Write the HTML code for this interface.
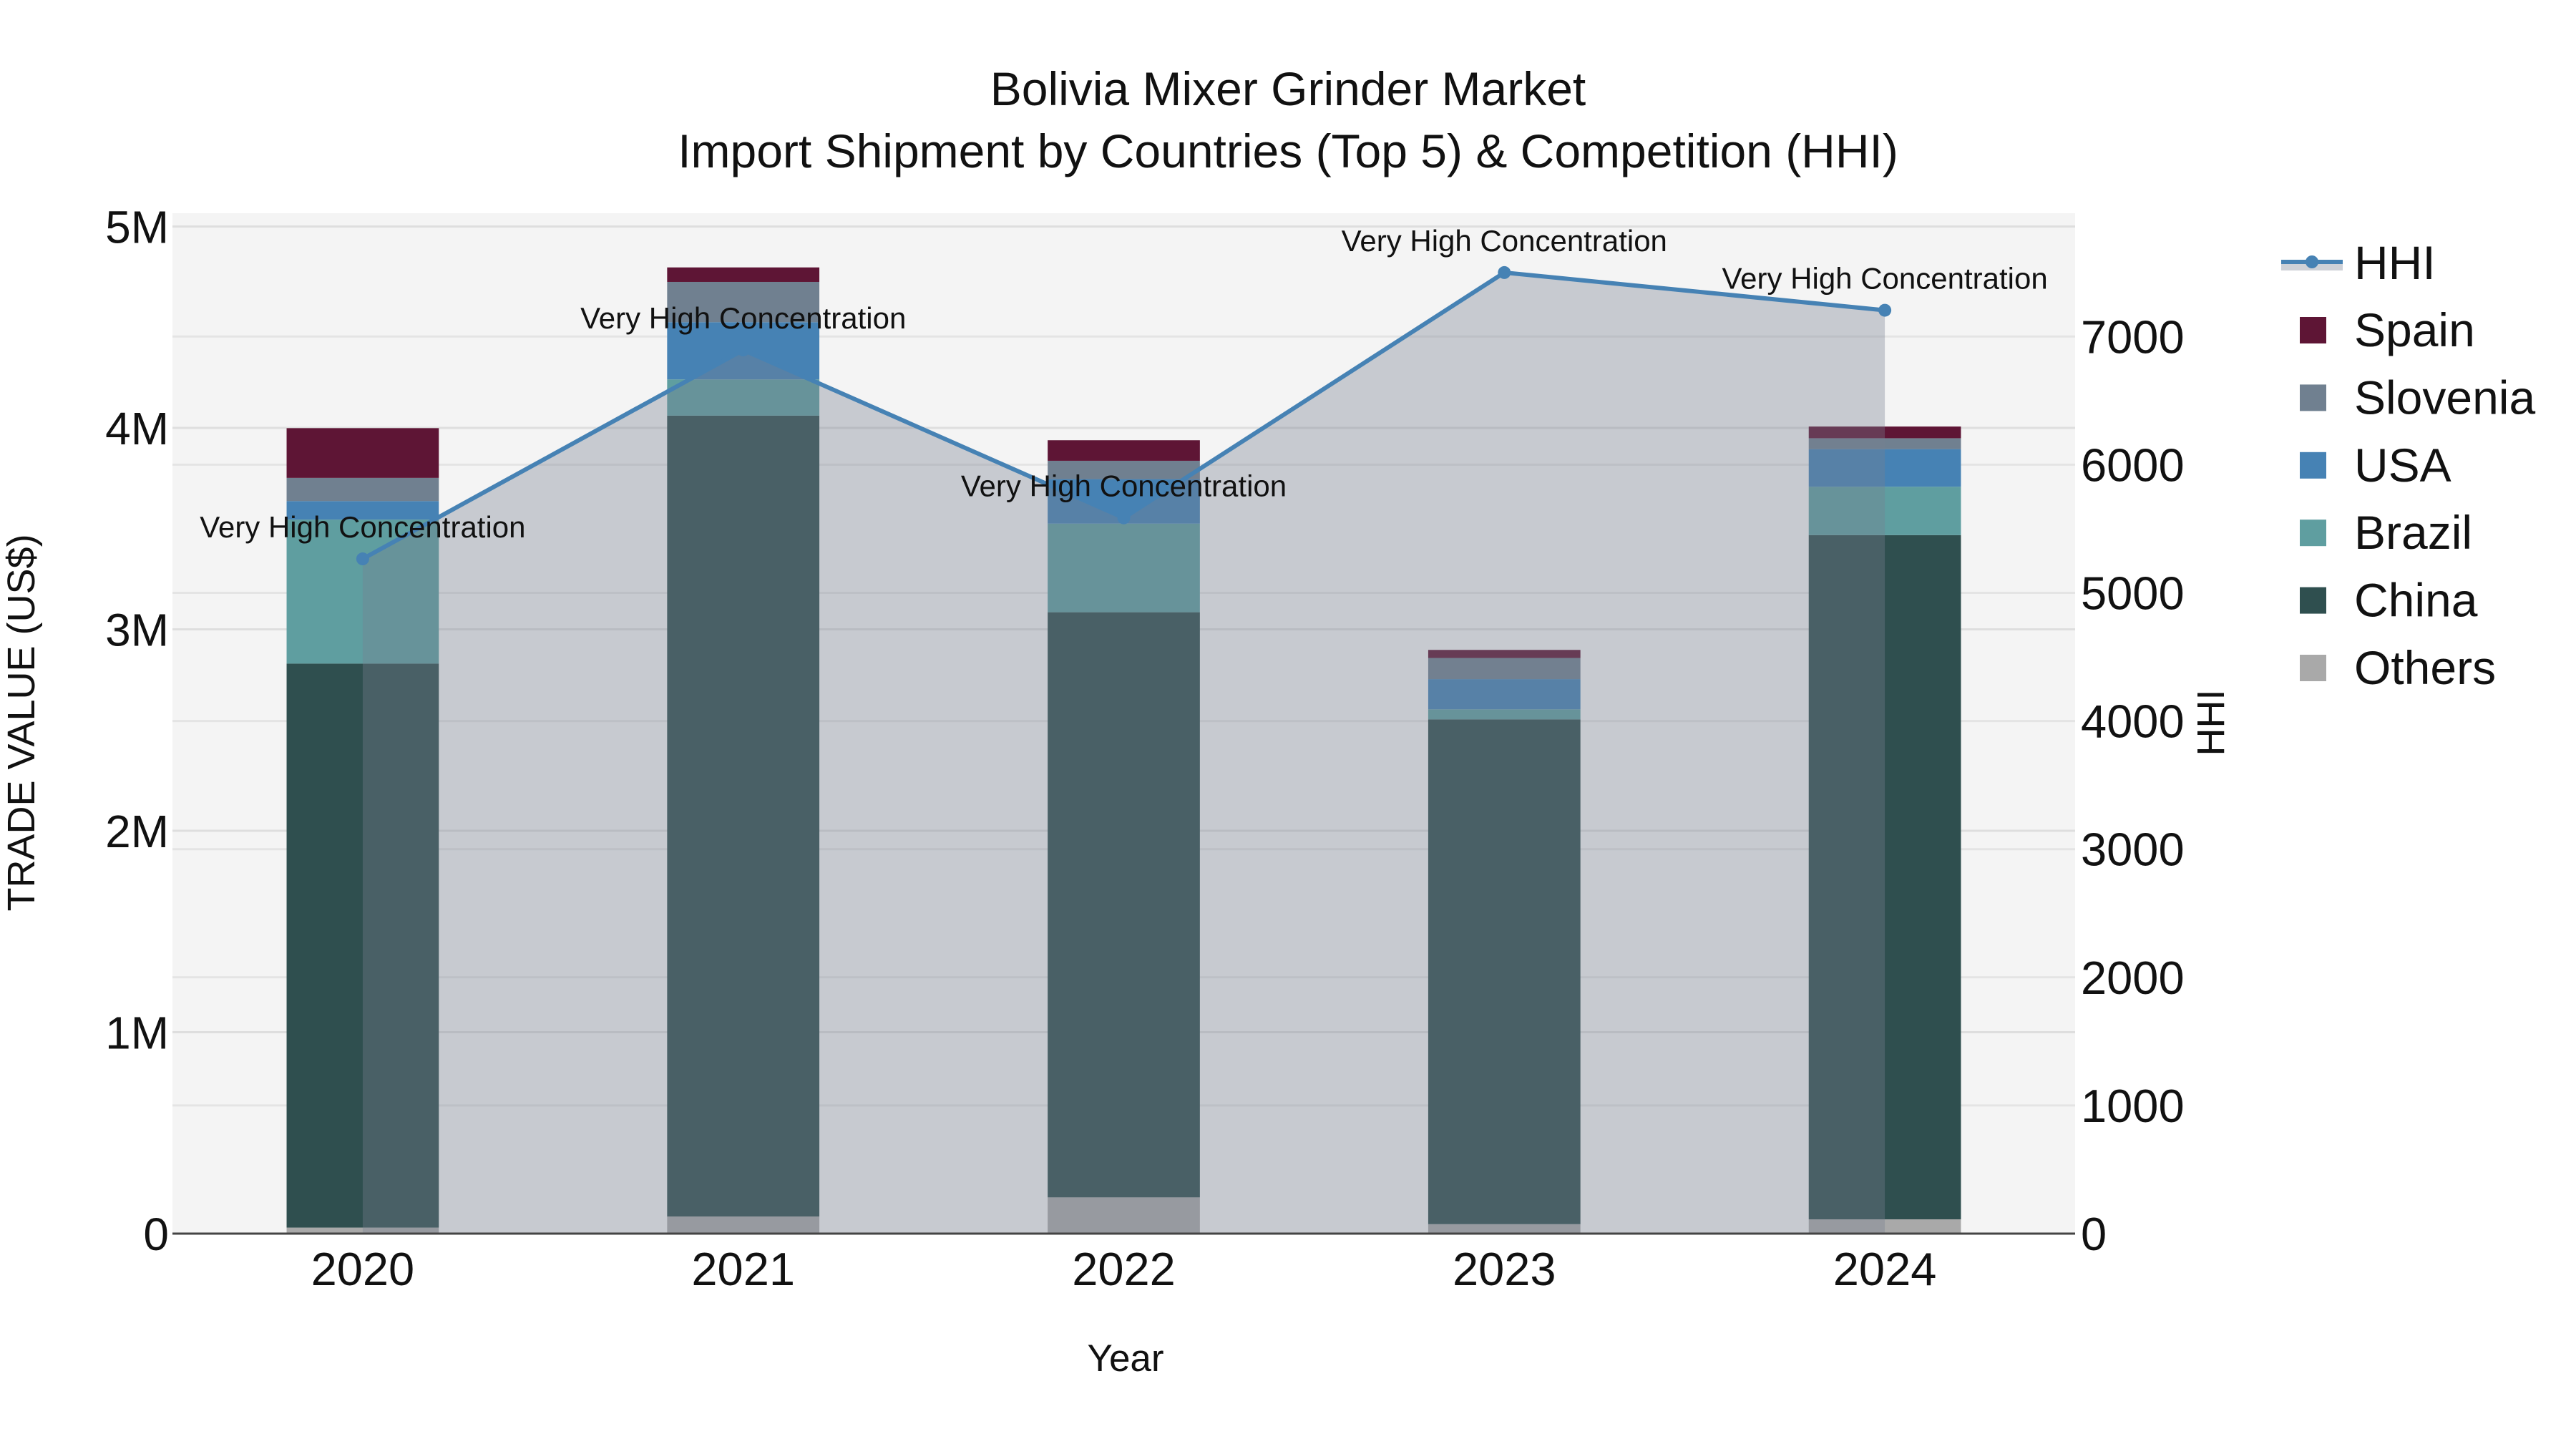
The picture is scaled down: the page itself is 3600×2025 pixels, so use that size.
<!DOCTYPE html>
<html><head><meta charset="utf-8"><style>
html,body{margin:0;padding:0;background:#fff}
svg{display:block}
text{font-family:"Liberation Sans",sans-serif;fill:#111}
</style></head><body>
<svg id="chart" width="3600" height="2025" viewBox="0 0 3600 2025" xmlns="http://www.w3.org/2000/svg">
<rect x="0" y="0" width="3600" height="2025" fill="#fff"/>
<rect x="241" y="298" width="2659" height="1426" fill="#f4f4f4"/>
<g id="grid"></g>
<g id="bars"></g>
<g id="hhi"></g>
<g id="axes"></g>
<text x="1800" y="147" font-size="66" text-anchor="middle">Bolivia Mixer Grinder Market</text>
<text x="1800" y="234" font-size="66" text-anchor="middle">Import Shipment by Countries (Top 5) &amp; Competition (HHI)</text>
<text x="1573" y="1916" font-size="53" text-anchor="middle">Year</text>
<text transform="translate(48,1010) rotate(-90)" font-size="54" text-anchor="middle">TRADE VALUE (US$)</text>
<text transform="translate(3108,1010) rotate(-90)" font-size="54" text-anchor="middle">HHI</text>
<g id="legend"></g>
</svg>
<script>
const years = ["2020","2021","2022","2023","2024"];
const series = ["Others","China","Brazil","USA","Slovenia","Spain"];
const others   = [0.03, 0.085, 0.18, 0.047, 0.071];
const china    = [2.80, 3.976, 2.905, 2.506, 3.397];
const brazil   = [0.715, 0.18, 0.44, 0.05, 0.24];
const usa      = [0.092, 0.284, 0.221, 0.15, 0.187];
const slovenia = [0.115, 0.20, 0.091, 0.105, 0.054];
const spain    = [0.247, 0.072, 0.102, 0.04, 0.058];
const hhi = [5265, 6895, 5585, 7499, 7205];
const hhiLabels = ["Very High Concentration","Very High Concentration","Very High Concentration","Very High Concentration","Very High Concentration"];
const leftTicks = [0,1,2,3,4,5];
const leftTickLabels = ["0","1M","2M","3M","4M","5M"];
const rightTicks = [0,1000,2000,3000,4000,5000,6000,7000];
const colors = {Others:"#a9a9a9",China:"#2f4f4f",Brazil:"#5f9ea0",USA:"#4682b4",Slovenia:"#708090",Spain:"#5e1535"};
const seriesData = {Others:others,China:china,Brazil:brazil,USA:usa,Slovenia:slovenia,Spain:spain};

const NS="http://www.w3.org/2000/svg";
const X0=241,X1=2900,Y0=1724,Y1=298;
const xs=i=>X0+(i+0.5)*(X1-X0)/years.length;
const yl=v=>Y0-v*(Y0-Y1)/5.066;
const yr=v=>Y0-v*(Y0-Y1)/7962;
function mk(tag,attrs,parent){const e=document.createElementNS(NS,tag);for(const k in attrs)e.setAttribute(k,attrs[k]);parent.appendChild(e);return e;}
const grid=document.getElementById('grid'),bars=document.getElementById('bars'),hg=document.getElementById('hhi'),axes=document.getElementById('axes'),leg=document.getElementById('legend');

leftTicks.forEach((t,i)=>{
  if(t>0){const l=mk('line',{x1:X0,x2:X1,y1:yl(t),y2:yl(t),stroke:'#dedede','stroke-width':3},grid);
  
  }
  const tx=mk('text',{x:236,y:yl(t)+23,'font-size':64,'text-anchor':'end'},axes);tx.textContent=leftTickLabels[i];
  
  
});
rightTicks.forEach(t=>{
  if(t>0){const l=mk('line',{x1:X0,x2:X1,y1:yr(t),y2:yr(t),stroke:'#e4e4e4','stroke-width':3},grid);
  
  }
  const tx=mk('text',{x:2908,y:yr(t)+23,'font-size':65},axes);tx.textContent=String(t);
  
  
});
const bw=0.4*(X1-X0)/years.length;
years.forEach((y,i)=>{
  let cum=0;
  series.forEach(s=>{
    const v=seriesData[s][i];
    const r=mk('rect',{x:xs(i)-bw/2,y:yl(cum+v),width:bw,height:yl(cum)-yl(cum+v),fill:colors[s]},bars);
    
    
    cum+=v;
  });
  const tx=mk('text',{x:xs(i),y:1796,'font-size':65,'text-anchor':'middle'},axes);tx.textContent=y;
  
  
});
let pts=hhi.map((v,i)=>xs(i)+','+yr(v)).join(' ');
const area=mk('polygon',{points:xs(0)+','+Y0+' '+pts+' '+xs(hhi.length-1)+','+Y0,fill:'rgba(119,128,143,0.36)'},hg);


const line=mk('polyline',{points:pts,fill:'none',stroke:'#4682b4','stroke-width':6},hg);


hhi.forEach((v,i)=>{
  const c=mk('circle',{cx:xs(i),cy:yr(v),r:9,fill:'#4682b4'},hg);
  
  
  const t=mk('text',{x:xs(i),y:yr(v)-30,'font-size':42,'text-anchor':'middle'},hg);t.textContent=hhiLabels[i];
  
  
});
const zl=mk('line',{x1:X0,x2:X1,y1:Y0,y2:Y0,stroke:'#444','stroke-width':3},axes);


// legend
const lg1=mk('rect',{x:3188,y:364,width:86,height:14,fill:'rgba(119,128,143,0.36)'},leg);


const lg2=mk('line',{x1:3188,x2:3274,y1:366,y2:366,stroke:'#4682b4','stroke-width':6},leg);


const lg3=mk('circle',{cx:3231,cy:366,r:9,fill:'#4682b4'},leg);


const lt=mk('text',{x:3290,y:390,'font-size':66},leg);lt.textContent='HHI';


["Spain","Slovenia","USA","Brazil","China","Others"].forEach((s,k)=>{
  const cy=461+k*94.4;
  const r=mk('rect',{x:3214,y:cy-18,width:37,height:37,fill:colors[s]},leg);
  
  
  const t=mk('text',{x:3290,y:cy+23,'font-size':66},leg);t.textContent=s;
  
  
});
</script>
</body></html>
